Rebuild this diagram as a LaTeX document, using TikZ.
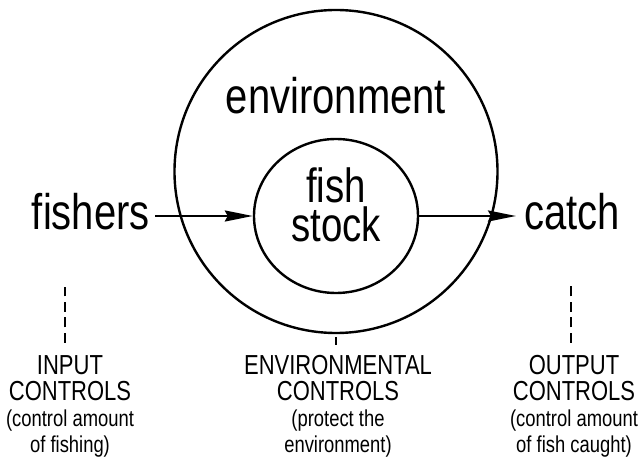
\documentclass[tikz,border=0pt]{standalone}
\usepackage{fontspec}
\setmainfont{Liberation Sans}[FakeStretch=0.8]
\usetikzlibrary{arrows.meta,shapes.geometric}
\newcommand{\capsline}{\fontsize{27.5}{26}\selectfont}
\begin{document}
\begin{tikzpicture}[x=1pt,y=-1pt,
  big/.style={font=\fontsize{50}{39}\selectfont, inner sep=0pt},
  stocktext/.style={font=\fontsize{48}{39}\selectfont, inner sep=0pt, align=center},
  small/.style={font=\fontsize{23}{26}\selectfont, align=center, inner sep=0pt},
  ring/.style={draw, line width=2.4pt, inner sep=0pt},
  flow/.style={line width=2.2pt, -{Stealth[length=28pt,width=11pt,inset=3pt]}},
  ctrl/.style={line width=1.6pt, dash pattern=on 10pt off 5.5pt}]
\useasboundingbox (0,0) rectangle (641,473);
% rings
\node[ring, circle, minimum size=323pt] (env) at (336,171.5) {};
\node[ring, ellipse, minimum width=164pt, minimum height=154pt] (stock) at (336,216) {};
% big labels
\node[big, anchor=base] (envlbl) at (336,114) {environment};
\node[stocktext] (fishlbl) at (336,205) {fish\\stock};
\node[big, inner xsep=5pt, anchor=base east] (fishers) at (155,230) {fishers};
\node[big, inner xsep=8pt, anchor=base west] (catch) at (516,230) {catch};
% flows
\draw[flow] (fishers.east |- stock.west) -- (stock.west);
\draw[flow] (stock.east) -- (catch.west |- stock.east);
% control labels
\node[small, anchor=north] (inctl) at (70,355) {{\capsline INPUT}\\{\capsline CONTROLS}\\(control amount\\of fishing)};
\node[small, anchor=north] (envctl) at (338,355) {{\capsline ENVIRONMENTAL}\\{\capsline CONTROLS}\\(protect the\\environment)};
\node[small, anchor=north] (outctl) at (574,355) {{\capsline OUTPUT}\\{\capsline CONTROLS}\\(control amount\\of fish caught)};
% dashed links
\coordinate (intop) at (65,287);
\coordinate (outtop) at (571,285);
\coordinate (envtick) at (336,345);
\draw[ctrl, shorten <=12pt] (intop |- inctl.north) -- (intop);
\draw[ctrl, shorten <=12pt] (outtop |- outctl.north) -- (outtop);
\draw[ctrl, shorten <=3pt] (env.south) -- (envtick);
\end{tikzpicture}
\end{document}
